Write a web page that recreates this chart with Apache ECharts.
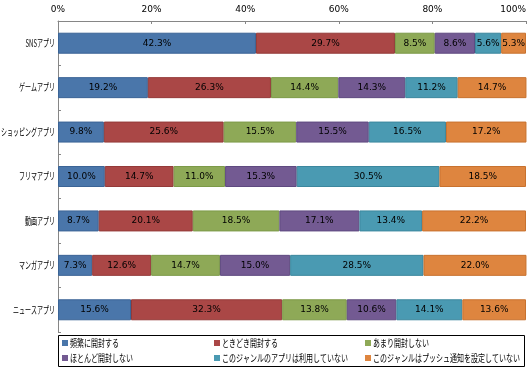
<!DOCTYPE html>
<html><head><meta charset="utf-8">
<script src="https://cdn.jsdelivr.net/npm/echarts@6/dist/echarts.min.js"></script>
<style>html,body{margin:0;padding:0;background:#fff}#c{width:529px;height:371px}</style>
</head><body><div id="c"></div>
<script>
const categories = ['SNSアプリ','ゲームアプリ','ショッピングアプリ','フリマアプリ','動画アプリ','マンガアプリ','ニュースアプリ'];
const seriesNames = ['頻繁に開封する','ときどき開封する','あまり開封しない','ほとんど開封しない','このジャンルのアプリは利用していない','このジャンルはプッシュ通知を設定していない'];
const frequent   = [42.3, 19.2, 9.8, 10.0, 8.7, 7.3, 15.6];
const sometimes  = [29.7, 26.3, 25.6, 14.7, 20.1, 12.6, 32.3];
const rarely     = [8.5, 14.4, 15.5, 11.0, 18.5, 14.7, 13.8];
const almostNever= [8.6, 14.3, 15.5, 15.3, 17.1, 15.0, 10.6];
const notUsed    = [5.6, 11.2, 16.5, 30.5, 13.4, 28.5, 14.1];
const notSet     = [5.3, 14.7, 17.2, 18.5, 22.2, 22.0, 13.6];
const xTicks = [0, 20, 40, 60, 80, 100];

const colors = ['#4A76AA','#AA4746','#8EA957','#735A92','#4A9AB2','#DE853F'];
const borders = ['#3B6496','#943A39','#7C9A48','#5F4A80','#3C879E','#C8722F'];
const values = [frequent, sometimes, rarely, almostNever, notUsed, notSet];
const jpFont = '10px "Noto Sans CJK JP"';

const chart = echarts.init(document.getElementById('c'));
chart.setOption({
  animation:false,
  color: colors,
  textStyle:{fontFamily:'DejaVu Sans'},
  grid:{left:58, right:3, top:21, bottom:39, containLabel:false, outerBoundsMode:'none'},
  xAxis:{type:'value', position:'top', min:xTicks[0], max:xTicks[xTicks.length-1], interval:20,
    axisLine:{show:true, lineStyle:{color:'#868686'}},
    axisTick:{show:true, inside:true, length:3, lineStyle:{color:'#868686'}},
    splitLine:{show:false},
    axisLabel:{formatter:v=>v+'%', fontSize:9, color:'#000', fontFamily:'DejaVu Sans', margin:7, alignMaxLabel:'right'}},
  yAxis:{type:'category', data:categories, inverse:true,
    axisLine:{show:true, lineStyle:{color:'#868686'}},
    axisTick:{show:true, inside:true, length:3, lineStyle:{color:'#868686'}},
    axisLabel:{show:false}},
  series: seriesNames.map((n,i)=>({
    name:n, type:'bar', stack:'total', barWidth:21,
    itemStyle:{color:colors[i], borderColor:borders[i], borderWidth:1},
    label:{show:true, position:'inside', formatter:p=>p.value.toFixed(1)+'%', fontSize:9, color:'#000', fontFamily:'DejaVu Sans'},
    data: values[i]
  }))
});

// Condensed category labels (reference font is narrow), positioned via the axis scale
const graphics = [];
categories.forEach((c)=>{
  const y = chart.convertToPixel({yAxisIndex:0}, c);
  graphics.push({type:'text', x:55, y:y, scaleX:0.6, silent:true,
    style:{text:c, x:0, y:0, align:'right', verticalAlign:'middle', font:jpFont, fill:'#000'}});
});
// Legend box
graphics.push({type:'rect', shape:{x:58.5, y:335.5, width:466, height:31}, style:{fill:'none', stroke:'#000', lineWidth:1}, silent:true});
const legendOrder = [[0,1,2],[3,4,5]];
const colX = [62, 214, 365];
const rowY = [343, 358];
legendOrder.forEach((row, r)=>{
  row.forEach((si, c)=>{
    graphics.push({type:'rect', shape:{x:colX[c], y:rowY[r]-3, width:6, height:6}, style:{fill:colors[si]}, silent:true});
    graphics.push({type:'text', x:colX[c]+8, y:rowY[r], scaleX:0.7, silent:true,
      style:{text:seriesNames[si], x:0, y:0, align:'left', verticalAlign:'middle', font:jpFont, fill:'#000'}});
  });
});
chart.setOption({graphic:graphics});
</script></body></html>
